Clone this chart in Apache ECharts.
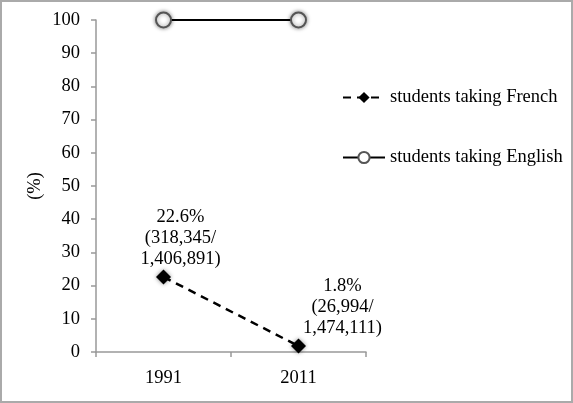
<!DOCTYPE html>
<html><head><meta charset="utf-8">
<script src="https://cdn.jsdelivr.net/npm/echarts@6/dist/echarts.min.js"></script>
<style>html,body{margin:0;padding:0;background:#fff}#c{width:573px;height:403px;box-sizing:border-box;border:2px solid #aaa}</style>
</head><body><div id="c"></div>
<script>
const years = ['1991', '2011'];
const french = [22.6, 1.8];
const english = [100, 100];
const frenchLabels = ['22.6%\n(318,345/\n1,406,891)', '1.8%\n(26,994/\n1,474,111)'];
const yTicks = {min: 0, max: 100, interval: 10};

const labelOffsets = [[17, 0], [44, 0]];
const chart = echarts.init(document.getElementById('c'));
const font = 'Liberation Serif, Times New Roman, serif';
const fs = 18.5;
chart.setOption({
  animation: false,
  textStyle: {fontFamily: font, color: '#000'},
  grid: {left: 94, right: 205, top: 18, bottom: 49},
  legend: {
    orient: 'vertical', left: 340, top: 86, itemGap: 41, padding: 0,
    itemWidth: 42, itemHeight: 14,
    textStyle: {fontFamily: font, fontSize: fs, color: '#000'},
    data: ['students taking French', 'students taking English']
  },
  xAxis: {
    type: 'category', data: years, boundaryGap: true,
    axisLine: {lineStyle: {color: '#999', width: 1.5}},
    axisTick: {show: true, length: 5, lineStyle: {color: '#999', width: 1.5}},
    axisLabel: {fontFamily: font, fontSize: fs, color: '#000', margin: 17}
  },
  yAxis: {
    type: 'value', min: yTicks.min, max: yTicks.max, interval: yTicks.interval,
    name: '(%)', nameLocation: 'middle', nameGap: 51, nameRotate: 90,
    nameTextStyle: {fontFamily: font, fontSize: fs, color: '#000'},
    splitLine: {show: false},
    axisLine: {show: true, lineStyle: {color: '#999', width: 1.5}},
    axisTick: {show: true, length: 5, lineStyle: {color: '#999', width: 1.5}},
    axisLabel: {fontFamily: font, fontSize: fs, color: '#000', margin: 16}
  },
  series: [
    {
      name: 'students taking French', type: 'line',
      data: french.map((v, i) => ({value: v, label: {offset: labelOffsets[i]}})),
      symbol: 'diamond', symbolSize: 15,
      lineStyle: {color: '#000', width: 2.5, type: [8, 6]},
      itemStyle: {color: '#000', shadowBlur: 4, shadowColor: 'rgba(0,0,0,0.45)'},
      label: {
        show: true, position: 'top', distance: 0,
        fontFamily: font, fontSize: fs, lineHeight: 21, color: '#000', align: 'center',
        formatter: p => frenchLabels[p.dataIndex]
      }
    },
    {
      name: 'students taking English', type: 'line', data: english,
      symbol: 'circle', symbolSize: 15,
      lineStyle: {color: '#000', width: 2},
      itemStyle: {color: '#fff', borderColor: '#555', borderWidth: 2, shadowBlur: 4, shadowColor: 'rgba(0,0,0,0.45)'}
    }
  ]
});
</script></body></html>
